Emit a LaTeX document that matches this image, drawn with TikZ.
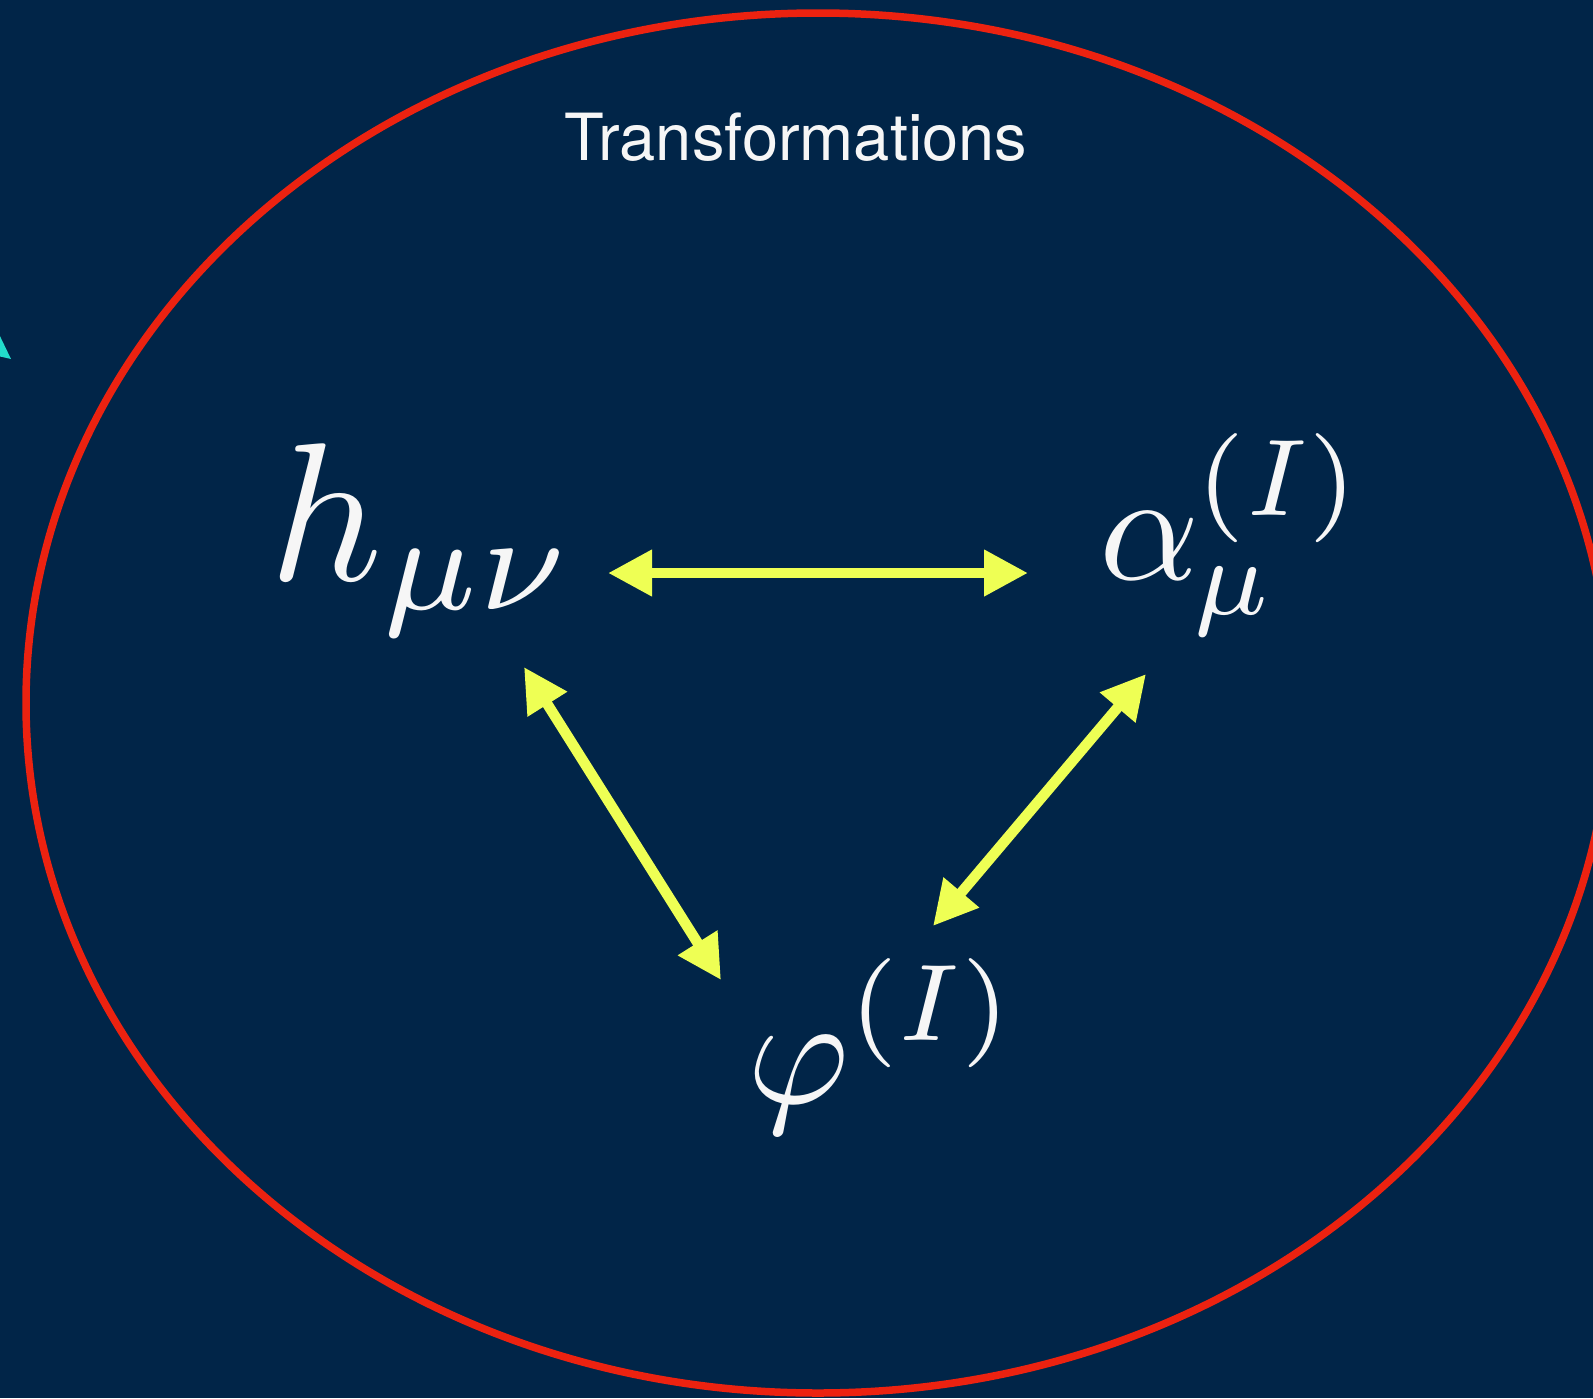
\documentclass[tikz,border=0pt]{standalone}
\usepackage{graphicx}
\usepackage{fontspec}
\newfontfamily\titlefont{TeX Gyre Heros}
\usetikzlibrary{arrows.meta}
\definecolor{navy}{RGB}{1,37,72}
\definecolor{ringred}{RGB}{236,34,16}
\definecolor{arrowyellow}{RGB}{238,255,84}
\definecolor{tealtip}{RGB}{34,221,204}
\definecolor{txtwhite}{RGB}{246,246,246}
\tikzset{
  sym/.style={inner sep=0pt, outer sep=0pt, anchor=base west, text=txtwhite},
  dblarrow/.style={draw=arrowyellow, line width=10.5pt,
    {Triangle[length=44pt,width=44pt]}-{Triangle[length=44pt,width=44pt]}},
}
\begin{document}
\begin{tikzpicture}[x=1pt,y=-1pt]
\useasboundingbox (0,0) rectangle (1593,1398);
\fill[navy] (0,0) rectangle (1593,1398);
\draw[ringred, line width=7.5pt] (818,703) ellipse [x radius=792, y radius=690];
\fill[tealtip] (-2,332) -- (11,359) -- (-2,356) -- cycle;
\node[inner sep=0pt, anchor=base, text=txtwhite, font=\titlefont\fontsize{65}{72}\selectfont] (title) at (796,160) {Transformations};
\node[sym] (h) at (269,580) {\scalebox{19.7}{$h_{\mu\nu}$}};
\node[sym] (al) at (1099,579) {\scalebox{15.6}{$\alpha$\kern-0.35pt\rlap{\raisebox{-2.3pt}{$\scriptstyle\mu$}}\kern0.15pt\raisebox{4.1pt}{$\scriptstyle(I)$}}};
\node[sym] (ph) at (747,1103) {\scalebox{15.6}{$\varphi$\raisebox{4.0pt}{$\scriptstyle(I)$}}};
\coordinate (hR) at (608,573);
\coordinate (aL) at (1028,573);
\coordinate (hB) at (524,667);
\coordinate (pT) at (721,980);
\coordinate (aB) at (1146,674);
\coordinate (pR) at (933,926);
\draw[dblarrow] (hR) -- (aL);
\draw[dblarrow] (hB) -- (pT);
\draw[dblarrow] (aB) -- (pR);
\end{tikzpicture}
\end{document}
